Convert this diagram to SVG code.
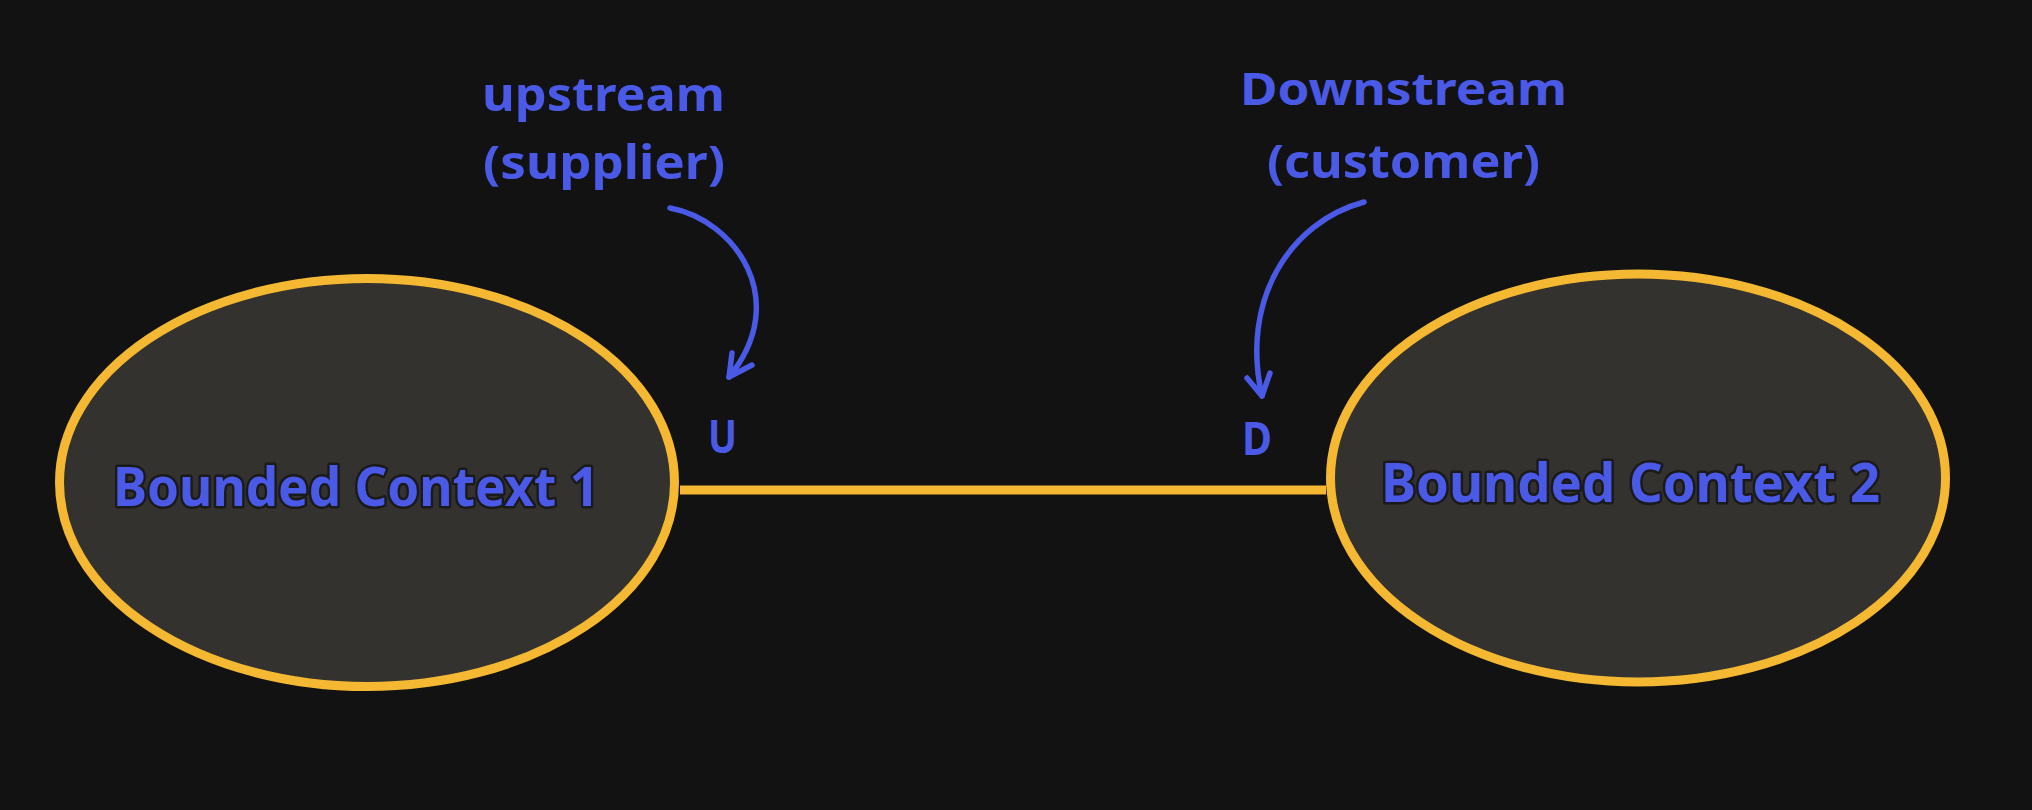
<svg xmlns="http://www.w3.org/2000/svg" width="2032" height="810" viewBox="0 0 2032 810">
  <style>
    .ctx { fill: #34322e; stroke: #f4b832; stroke-width: 9; }
    .conn { stroke: #f4b832; stroke-width: 9; fill: none; }
    .arrow { stroke: #4a5ae6; stroke-width: 5.5; fill: none; stroke-linecap: round; stroke-linejoin: round; }
    .lbl { font-family: "Noto Sans", "Liberation Sans", sans-serif; font-weight: bold; fill: #4a5ae6; }
    .ctxtext { font-family: "Noto Sans", "Liberation Sans", sans-serif; font-weight: bold; font-size: 54px; fill: #4a5ae6; stroke: #1a1a1a; stroke-width: 5; paint-order: stroke; stroke-linejoin: round; }
  </style>
  <rect x="0" y="0" width="2032" height="810" fill="#121212"/>

  <g id="connectors">
    <line class="conn" x1="680" y1="490" x2="1326" y2="490"/>
    <g id="arrow-upstream">
      <path class="arrow" d="M670,208 C735,220 792,300 729,377"/>
      <path class="arrow" d="M732,353 L729,377 L752,365"/>
    </g>
    <g id="arrow-downstream">
      <path class="arrow" d="M1364,202 C1290,222 1240,300 1262,396"/>
      <path class="arrow" d="M1247,378 L1262,396 L1270,373"/>
    </g>
  </g>

  <g id="bc1">
    <ellipse class="ctx" cx="367" cy="482.5" rx="307.5" ry="204"/>
    <text class="ctxtext" x="113" y="506" textLength="486" lengthAdjust="spacingAndGlyphs">Bounded Context 1</text>
  </g>

  <g id="bc2">
    <ellipse class="ctx" cx="1638" cy="478" rx="307.5" ry="204"/>
    <text class="ctxtext" x="1381" y="502" textLength="499" lengthAdjust="spacingAndGlyphs">Bounded Context 2</text>
  </g>

  <g id="label-upstream">
    <text class="lbl" font-size="46" x="482" y="111" textLength="243" lengthAdjust="spacingAndGlyphs">upstream</text>
    <text class="lbl" font-size="46" x="483" y="179" textLength="242" lengthAdjust="spacingAndGlyphs">(supplier)</text>
  </g>

  <g id="label-downstream">
    <text class="lbl" font-size="44" x="1240" y="105" textLength="327" lengthAdjust="spacingAndGlyphs">Downstream</text>
    <text class="lbl" font-size="46" x="1267" y="178" textLength="273" lengthAdjust="spacingAndGlyphs">(customer)</text>
  </g>

  <g id="label-u">
    <text class="lbl" font-size="46" x="708" y="453" textLength="29" lengthAdjust="spacingAndGlyphs">U</text>
  </g>
  <g id="label-d">
    <text class="lbl" font-size="46" x="1242" y="455" textLength="30" lengthAdjust="spacingAndGlyphs">D</text>
  </g>
</svg>
